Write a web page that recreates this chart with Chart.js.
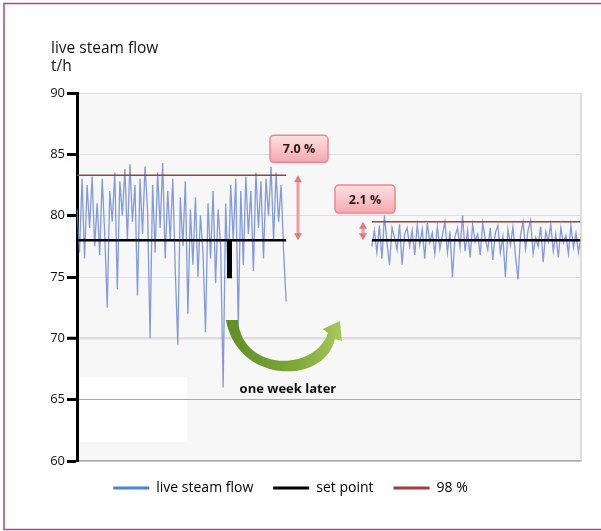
<!DOCTYPE html>
<html>
<head>
<meta charset="utf-8">
<script src="https://cdn.jsdelivr.net/npm/chart.js@4.4.0/dist/chart.umd.min.js"></script>
<style>
  html, body { margin: 0; padding: 0; background: #fff; }
</style>
</head>
<body>
<canvas id="steamChart" width="601" height="531"></canvas>
<script>
// live steam flow, t/h - before tuning (left) and one week later (right)
const flowBefore = [
  80.5, 77.0, 83.0, 76.5, 82.5, 79.0, 83.2, 77.5, 81.0, 76.8, 83.0, 78.5,
  72.5, 82.0, 79.5, 83.5, 74.0, 82.8, 80.0, 83.8, 78.0, 84.2, 79.5, 82.5,
  73.5, 83.0, 78.5, 84.0, 80.5, 70.0, 82.5, 77.0, 83.5, 79.0, 84.3, 76.5,
  82.0, 78.0, 83.0, 75.5, 69.5, 81.5, 77.5, 82.8, 72.0, 80.5, 76.0, 81.5,
  75.0, 80.0, 77.0, 70.5, 81.0, 76.5, 82.0, 74.5, 80.5, 77.5, 66.0, 81.0,
  75.0, 82.5, 78.0, 83.0, 71.0, 82.0, 76.0, 83.2, 78.5, 82.0, 75.5, 83.5,
  79.0, 82.8, 76.5, 83.0, 80.0, 84.0, 78.0, 83.5, 79.5, 82.5, 77.0, 73.0
];
const flowAfter = [
  77.5, 78.8, 77.0, 79.2, 76.5, 80.0, 77.8, 76.0, 79.0, 78.2, 77.2, 79.3,
  76.0, 78.5, 79.0, 77.5, 78.8, 76.8, 79.2, 77.6, 78.9, 76.5, 79.4, 77.8,
  78.6, 76.9, 79.1, 77.3, 78.4, 79.5, 77.0, 78.7, 75.0, 78.3, 79.0, 77.4,
  80.0, 77.1, 78.8, 76.6, 79.3, 77.9, 78.5, 76.8, 79.4, 78.1, 77.2, 79.0,
  76.4, 78.6, 79.2, 77.0, 78.3, 75.0, 78.9, 77.6, 79.1, 76.7, 74.8, 78.4,
  79.5, 77.3, 78.8, 79.6, 76.9, 78.2, 77.5, 79.1, 76.2, 78.7, 77.9, 79.3,
  77.1, 78.5, 76.6, 79.0, 77.8, 78.4, 76.9, 79.2, 77.4, 78.6, 77.0, 78.3
];
const setPointBefore = [
  78, 78, 78, 78, 78, 78, 78, 78, 78, 78, 78, 78,
  78, 78, 78, 78, 78, 78, 78, 78, 78, 78, 78, 78,
  78, 78, 78, 78, 78, 78, 78, 78, 78, 78, 78, 78,
  78, 78, 78, 78, 78, 78, 78, 78, 78, 78, 78, 78,
  78, 78, 78, 78, 78, 78, 78, 78, 78, 78, 78, 78,
  75, 78, 78, 78, 78, 78, 78, 78, 78, 78, 78, 78,
  78, 78, 78, 78, 78, 78, 78, 78, 78, 78, 78, 78
];
const setPointAfter = [
  78, 78, 78, 78, 78, 78, 78, 78, 78, 78, 78, 78,
  78, 78, 78, 78, 78, 78, 78, 78, 78, 78, 78, 78,
  78, 78, 78, 78, 78, 78, 78, 78, 78, 78, 78, 78,
  78, 78, 78, 78, 78, 78, 78, 78, 78, 78, 78, 78,
  78, 78, 78, 78, 78, 78, 78, 78, 78, 78, 78, 78,
  78, 78, 78, 78, 78, 78, 78, 78, 78, 78, 78, 78,
  78, 78, 78, 78, 78, 78, 78, 78, 78, 78, 78, 78
];
const p98Before = [
  83.3, 83.3, 83.3, 83.3, 83.3, 83.3, 83.3, 83.3, 83.3, 83.3, 83.3, 83.3,
  83.3, 83.3, 83.3, 83.3, 83.3, 83.3, 83.3, 83.3, 83.3, 83.3, 83.3, 83.3,
  83.3, 83.3, 83.3, 83.3, 83.3, 83.3, 83.3, 83.3, 83.3, 83.3, 83.3, 83.3,
  83.3, 83.3, 83.3, 83.3, 83.3, 83.3, 83.3, 83.3, 83.3, 83.3, 83.3, 83.3,
  83.3, 83.3, 83.3, 83.3, 83.3, 83.3, 83.3, 83.3, 83.3, 83.3, 83.3, 83.3,
  83.3, 83.3, 83.3, 83.3, 83.3, 83.3, 83.3, 83.3, 83.3, 83.3, 83.3, 83.3,
  83.3, 83.3, 83.3, 83.3, 83.3, 83.3, 83.3, 83.3, 83.3, 83.3, 83.3, 83.3
];
const p98After = [
  79.5, 79.5, 79.5, 79.5, 79.5, 79.5, 79.5, 79.5, 79.5, 79.5, 79.5, 79.5,
  79.5, 79.5, 79.5, 79.5, 79.5, 79.5, 79.5, 79.5, 79.5, 79.5, 79.5, 79.5,
  79.5, 79.5, 79.5, 79.5, 79.5, 79.5, 79.5, 79.5, 79.5, 79.5, 79.5, 79.5,
  79.5, 79.5, 79.5, 79.5, 79.5, 79.5, 79.5, 79.5, 79.5, 79.5, 79.5, 79.5,
  79.5, 79.5, 79.5, 79.5, 79.5, 79.5, 79.5, 79.5, 79.5, 79.5, 79.5, 79.5,
  79.5, 79.5, 79.5, 79.5, 79.5, 79.5, 79.5, 79.5, 79.5, 79.5, 79.5, 79.5,
  79.5, 79.5, 79.5, 79.5, 79.5, 79.5, 79.5, 79.5, 79.5, 79.5, 79.5, 79.5
];
const gapLength = 33; // samples with no data between the two periods
const yTicks = [60, 65, 70, 75, 80, 85, 90];
const spreadLabels = ["7.0 %", "2.1 %"];
const seriesNames = ["live steam flow", "set point", "98 %"];
const axisTitle = ["live steam flow", "t/h"];
const arrowText = "one week later";

const FONT = "'Open Sans', 'DejaVu Sans', sans-serif";
const COLORS = {
    flow: "rgba(100, 130, 215, 0.8)",
    flowLegend: "#4a86c8",
    setPoint: "#000000",
    p98: "#a33d3d",
    frame: "#b8457c"
};

function joinPeriods(before, after) {
    return before.concat(new Array(gapLength).fill(null), after);
}

const flowData = joinPeriods(flowBefore, flowAfter);
const labels = flowData.map(function(v, i) { return String(i); });

// pink label box like the callouts in the original
function drawLabelBox(ctx, cx, cy, w, h, text) {
    const x = cx - w / 2, y = cy - h / 2;
    const grad = ctx.createLinearGradient(0, y, 0, y + h);
    grad.addColorStop(0, "#fde0e2");
    grad.addColorStop(1, "#f2a9af");
    ctx.save();
    ctx.shadowColor = "rgba(0,0,0,0.12)";
    ctx.shadowBlur = 3;
    ctx.shadowOffsetY = 1;
    ctx.beginPath();
    ctx.roundRect(x, y, w, h, 4);
    ctx.fillStyle = grad;
    ctx.fill();
    ctx.shadowColor = "transparent";
    ctx.lineWidth = 1.5;
    ctx.strokeStyle = "#e98a92";
    ctx.stroke();
    ctx.fillStyle = "#2b1515";
    ctx.font = "bold 12.5px " + FONT;
    ctx.textAlign = "center";
    ctx.textBaseline = "middle";
    ctx.fillText(text, cx, cy + 1);
    ctx.restore();
}

function drawDoubleArrow(ctx, x, yTop, yBottom) {
    ctx.save();
    ctx.strokeStyle = "#ec9ca2";
    ctx.fillStyle = "#e27a83";
    ctx.lineWidth = 3;
    ctx.beginPath();
    ctx.moveTo(x, yTop + 5);
    ctx.lineTo(x, yBottom - 5);
    ctx.stroke();
    ctx.beginPath();
    ctx.moveTo(x, yTop);
    ctx.lineTo(x - 4, yTop + 7);
    ctx.lineTo(x + 4, yTop + 7);
    ctx.closePath();
    ctx.moveTo(x, yBottom);
    ctx.lineTo(x - 4, yBottom - 7);
    ctx.lineTo(x + 4, yBottom - 7);
    ctx.closePath();
    ctx.fill();
    ctx.restore();
}

// curved green "later" arrow, ox/oy is the top of its left tail
function drawCurvedArrow(ctx, ox, oy) {
    const grad = ctx.createLinearGradient(ox - 62, 0, ox + 55, 0);
    grad.addColorStop(0, "#5f8e23");
    grad.addColorStop(0.6, "#7ea83a");
    grad.addColorStop(1, "#a8c95c");
    ctx.save();
    ctx.beginPath();
    ctx.moveTo(ox - 62, oy);
    ctx.bezierCurveTo(ox - 50, oy + 65, ox + 37, oy + 65, ox + 47, oy + 19);
    ctx.lineTo(ox + 54, oy + 21);
    ctx.lineTo(ox + 52, oy + 1);
    ctx.lineTo(ox + 35, oy + 9);
    ctx.lineTo(ox + 40, oy + 13);
    ctx.bezierCurveTo(ox + 27, oy + 52, ox - 46, oy + 52, ox - 50, oy);
    ctx.closePath();
    ctx.fillStyle = grad;
    ctx.fill();
    ctx.restore();
}

const decorPlugin = {
    id: "decor",
    beforeDraw(chart) {
        const {ctx, chartArea, scales} = chart;
        ctx.save();
        ctx.fillStyle = "#ffffff";
        ctx.fillRect(0, 0, chart.width, chart.height);
        ctx.fillStyle = "#f7f7f7";
        ctx.fillRect(chartArea.left, chartArea.top,
            chartArea.right - chartArea.left, chartArea.bottom - chartArea.top);
        // blank white panel in the lower left of the plot
        const x0 = scales.x.getPixelForValue(1.2), x1 = scales.x.getPixelForValue(43.7);
        const y0 = scales.y.getPixelForValue(66.85), y1 = scales.y.getPixelForValue(61.55);
        ctx.fillStyle = "#ffffff";
        ctx.fillRect(x0, y0, x1 - x0, y1 - y0);
        ctx.restore();
    },
    afterDatasetsDraw(chart) {
        const {ctx, chartArea, scales} = chart;
        const x = scales.x, y = scales.y;
        ctx.save();
        // right border of the plot
        ctx.strokeStyle = "#d4d4d4";
        ctx.lineWidth = 1.5;
        ctx.beginPath();
        ctx.moveTo(chartArea.right, chartArea.top);
        ctx.lineTo(chartArea.right, chartArea.bottom);
        ctx.stroke();
        ctx.restore();

        drawDoubleArrow(ctx, x.getPixelForValue(87.7), y.getPixelForValue(p98Before[0]), y.getPixelForValue(setPointBefore[0]));
        drawDoubleArrow(ctx, x.getPixelForValue(113.5), y.getPixelForValue(p98After[0]), y.getPixelForValue(setPointAfter[0]));
        drawLabelBox(ctx, x.getPixelForValue(88.1), y.getPixelForValue(85.45), 58, 27, spreadLabels[0]);
        drawLabelBox(ctx, x.getPixelForValue(114.3), y.getPixelForValue(81.35), 60, 28, spreadLabels[1]);

        drawCurvedArrow(ctx, x.getPixelForValue(83.7), y.getPixelForValue(71.5));
        ctx.save();
        ctx.fillStyle = "#111";
        ctx.font = "bold 13px " + FONT;
        ctx.textAlign = "center";
        ctx.textBaseline = "middle";
        ctx.fillText(arrowText, x.getPixelForValue(83.7), y.getPixelForValue(65.85));
        ctx.restore();
    },
    afterDraw(chart) {
        const ctx = chart.ctx;
        ctx.save();
        // axis title above the y axis
        ctx.fillStyle = "#111";
        ctx.font = "15.5px " + FONT;
        ctx.textAlign = "left";
        ctx.textBaseline = "alphabetic";
        ctx.fillText(axisTitle[0], 51, 53);
        ctx.fillText(axisTitle[1], 51, 71);
        // page frame
        ctx.strokeStyle = COLORS.frame;
        ctx.lineWidth = 1.5;
        ctx.beginPath();
        ctx.moveTo(chart.width, 3.5);
        ctx.lineTo(4, 3.5);
        ctx.lineTo(4, 529.5);
        ctx.lineTo(chart.width, 529.5);
        ctx.stroke();
        ctx.restore();
    }
};

const steamConfig = {
    type: "line",
    data: {
        labels: labels,
        datasets: [
            {
                label: seriesNames[0],
                data: flowData,
                borderColor: COLORS.flow,
                borderWidth: 1.3,
                order: 3
            },
            {
                label: seriesNames[1],
                data: joinPeriods(setPointBefore, setPointAfter),
                borderColor: COLORS.setPoint,
                borderWidth: 2.5,
                stepped: true,
                order: 2
            },
            {
                label: seriesNames[2],
                data: joinPeriods(p98Before, p98After),
                borderColor: COLORS.p98,
                borderWidth: 1.6,
                order: 1
            }
        ]
    },
    options: {
        responsive: false,
        animation: false,
        spanGaps: false,
        elements: {
            point: { radius: 0 },
            line: { tension: 0 }
        },
        layout: {
            padding: { top: 93, right: 20, left: 0, bottom: 26 }
        },
        plugins: {
            tooltip: { enabled: false },
            legend: {
                position: "bottom",
                labels: {
                    boxWidth: 36,
                    boxHeight: 3,
                    padding: 20,
                    color: "#111",
                    font: { family: FONT, size: 14 },
                    generateLabels: function() {
                        const swatch = [COLORS.flowLegend, COLORS.setPoint, COLORS.p98];
                        return seriesNames.map(function(name, i) {
                            return {
                                text: name,
                                fillStyle: swatch[i],
                                strokeStyle: swatch[i],
                                lineWidth: 0,
                                datasetIndex: i
                            };
                        });
                    }
                }
            }
        },
        scales: {
            x: {
                grid: { display: false, drawTicks: false },
                ticks: { display: false },
                border: { color: "#aaaaaa", width: 1.5 },
                afterFit: function(scale) { scale.height = 0; }
            },
            y: {
                min: yTicks[0],
                max: yTicks[yTicks.length - 1],
                afterBuildTicks: function(scale) {
                    scale.ticks = yTicks.map(function(v) { return { value: v }; });
                },
                afterFit: function(scale) { scale.width = 77; },
                border: { color: "#000", width: 3 },
                grid: {
                    color: function(context) {
                        return context.tick && context.tick.value === 65 ? "#a9a9a9" : "#dedede";
                    },
                    lineWidth: function(context) {
                        return context.tick && context.tick.value === 70 ? 2.5 : 1;
                    },
                    tickColor: "#000",
                    tickWidth: 3,
                    tickLength: 10
                },
                ticks: {
                    padding: 2,
                    color: "#111",
                    font: { family: FONT, size: 13 }
                }
            }
        }
    },
    plugins: [decorPlugin]
};

new Chart(document.getElementById("steamChart"), steamConfig);
</script>
</body>
</html>
